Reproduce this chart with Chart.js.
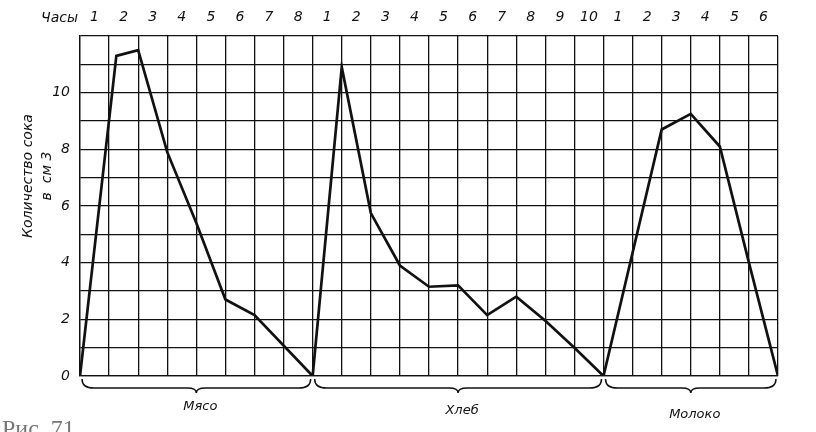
<!DOCTYPE html>
<html>
<head>
<meta charset="utf-8">
<script src="https://cdn.jsdelivr.net/npm/chart.js@4.4.0/dist/chart.umd.min.js"></script>
<style>
  html, body { margin: 0; padding: 0; background: #fff; }
  #wrap { width: 816px; height: 432px; position: relative; }
</style>
</head>
<body>
<div id="wrap"><canvas id="juice"></canvas></div>
<script>
// hours are counted from the start of the whole record (0..24)
// meat: 8 h, bread: 10 h, milk: 6 h
var meatHours  = [0, 1.25, 2, 3, 4, 5, 6, 8];
var meatJuice  = [0, 11.3, 11.5, 7.9, 5.4, 2.7, 2.15, 0];
var breadHours = [8, 9, 10, 11, 12, 13, 14, 15, 16, 17, 18];
var breadJuice = [0, 10.9, 5.75, 3.9, 3.15, 3.2, 2.15, 2.8, 1.95, 1.0, 0];
var milkHours  = [18, 20, 21, 22, 23, 24];
var milkJuice  = [0, 8.7, 9.25, 8.1, 4.0, 0];

var hourLabels = ['1','2','3','4','5','6','7','8',
                  '1','2','3','4','5','6','7','8','9','10',
                  '1','2','3','4','5','6'];
var groupNames = ['Мясо', 'Хлеб', 'Молоко'];
var groupStart = [0, 8, 18];
var groupEnd   = [8, 18, 24];
var yTickLabels = ['0', '2', '4', '6', '8', '10'];

var FONT = '"DejaVu Sans", sans-serif';
var INK = '#111';

function pts(xs, ys){
    return xs.map(function(x, i){ return { x: x, y: ys[i] }; });
}

function ds(label, xs, ys){
    return {
        label: label,
        data: pts(xs, ys),
        borderColor: INK,
        borderWidth: 2.7,
        pointRadius: 0,
        tension: 0,
        fill: false,
        xAxisID: 'x',
        yAxisID: 'y'
    };
}

// extra drawing: "Часы", axis title, braces and food names
var decor = {
    id: 'decor',
    afterDraw: function(chart){
        var ctx = chart.ctx, a = chart.chartArea, xs = chart.scales.x;
        ctx.save();
        ctx.fillStyle = INK;
        ctx.strokeStyle = INK;

        ctx.font = 'italic 14px ' + FONT;
        ctx.textAlign = 'right';
        ctx.textBaseline = 'middle';
        ctx.fillText('Часы', a.left - 2, 18);

        // y title, two lines, rotated
        ctx.save();
        ctx.translate(28, 176);
        ctx.rotate(-Math.PI / 2);
        ctx.textAlign = 'center';
        ctx.fillText('Количество сока', 0, 0);
        ctx.restore();
        ctx.save();
        ctx.translate(47, 176);
        ctx.rotate(-Math.PI / 2);
        ctx.textAlign = 'center';
        ctx.fillText('в  см 3', 0, 0);
        ctx.restore();

        // braces under each food
        ctx.lineWidth = 1.5;
        var y0 = a.bottom + 3, h = 14;
        for (var i = 0; i < groupNames.length; i++) {
            var x1 = xs.getPixelForValue(groupStart[i]) + 2;
            var x2 = xs.getPixelForValue(groupEnd[i]) - 2;
            var mid = (x1 + x2) / 2;
            var ym = y0 + h * 0.65;
            ctx.beginPath();
            ctx.moveTo(x1, y0);
            ctx.quadraticCurveTo(x1, ym, x1 + 12, ym);
            ctx.lineTo(mid - 9, ym);
            ctx.quadraticCurveTo(mid, ym, mid, y0 + h);
            ctx.quadraticCurveTo(mid, ym, mid + 9, ym);
            ctx.lineTo(x2 - 12, ym);
            ctx.quadraticCurveTo(x2, ym, x2, y0);
            ctx.stroke();

            ctx.font = 'italic 13px ' + FONT;
            ctx.textAlign = 'center';
            ctx.textBaseline = 'middle';
            ctx.fillText(groupNames[i], mid + 4, a.bottom + 31 + i * 4);
        }

        // caption cut off at the bottom of the page
        ctx.fillStyle = '#777';
        ctx.font = '24px "Liberation Serif", serif';
        ctx.textAlign = 'left';
        ctx.textBaseline = 'alphabetic';
        ctx.fillText('Рис. 71', 2, 436);
        ctx.restore();
    }
};

new Chart(document.getElementById('juice'), {
    type: 'line',
    data: {
        datasets: [
            ds('Мясо', meatHours, meatJuice),
            ds('Хлеб', breadHours, breadJuice),
            ds('Молоко', milkHours, milkJuice)
        ]
    },
    options: {
        responsive: true,
        maintainAspectRatio: false,
        animation: false,
        layout: { padding: { left: 0, right: 38, top: 0, bottom: 0 } },
        plugins: { legend: { display: false }, tooltip: { enabled: false } },
        scales: {
            x: {
                type: 'linear',
                position: 'bottom',
                min: 0, max: 24,
                ticks: { stepSize: 1, display: false },
                grid: { color: INK, lineWidth: 1.3, drawTicks: false },
                border: { color: INK, width: 1.3 },
                afterFit: function(s){ s.height = 56; }
            },
            hours: {
                type: 'category',
                position: 'top',
                labels: hourLabels,
                offset: true,
                grid: { display: false, drawTicks: false },
                border: { display: false },
                ticks: {
                    color: INK,
                    font: { family: FONT, style: 'italic', size: 14 },
                    padding: 10,
                    maxRotation: 0,
                    autoSkip: false
                },
                afterFit: function(s){ s.height = 36; }
            },
            y: {
                type: 'linear',
                min: 0, max: 12,
                ticks: {
                    stepSize: 1,
                    color: INK,
                    padding: 10,
                    font: { family: FONT, style: 'italic', size: 14 },
                    callback: function(v){
                        var k = yTickLabels.indexOf(String(v));
                        return k >= 0 ? yTickLabels[k] : '';
                    }
                },
                grid: { color: INK, lineWidth: 1.3, drawTicks: false },
                border: { color: INK, width: 1.3 },
                afterFit: function(s){ s.width = 80; }
            }
        }
    },
    plugins: [decor]
});
</script>
</body>
</html>
